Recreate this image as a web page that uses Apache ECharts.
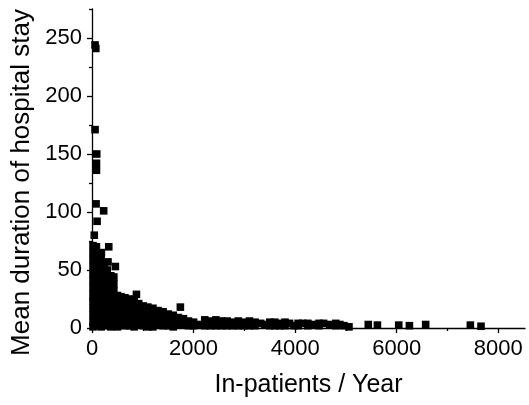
<!DOCTYPE html>
<html>
<head>
<meta charset="utf-8">
<script src="https://cdn.jsdelivr.net/npm/echarts@6/dist/echarts.min.js"></script>
<style>
  html, body { margin: 0; padding: 0; background: #fff; }
  #main { width: 529px; height: 405px; }
</style>
</head>
<body>
<div id="main"></div>
<script>
// isolated hospitals with long stays
var outlierPoints = [
    [60, 244], [75, 241], [60, 171], [93, 150], [88, 142], [88, 136],
    [80, 107], [230, 101], [100, 92], [45, 80], [87, 70], [330, 70],
    [185, 65], [315, 57], [460, 53], [875, 29], [1740, 18]
];

// the crowded bulk of small hospitals
var densePoints = [
    [20, 71], [20, 65], [20, 59], [20, 53], [20, 47], [20, 41], [20, 35], [20, 29], [20, 23], [20, 17], [20, 11], [20, 5], [20, 1],
    [70, 69], [70, 63], [70, 57], [70, 51], [70, 45], [70, 39], [70, 33], [70, 27], [70, 21], [70, 15], [70, 9], [70, 3],
    [125, 62], [125, 56], [125, 50], [125, 44], [125, 38], [125, 32], [125, 26], [125, 20], [125, 14], [125, 8], [125, 2],
    [180, 60], [180, 54], [180, 48], [180, 42], [180, 36], [180, 30], [180, 24], [180, 18], [180, 12], [180, 6], [180, 1],
    [240, 55], [240, 49], [240, 43], [240, 37], [240, 31], [240, 25], [240, 19], [240, 13], [240, 7], [240, 2],
    [300, 50], [300, 44], [300, 38], [300, 32], [300, 26], [300, 20], [300, 14], [300, 8], [300, 3],
    [370, 45], [370, 39], [370, 33], [370, 27], [370, 21], [370, 15], [370, 9], [370, 4], [370, 1],
    [430, 44], [430, 38], [430, 32], [430, 26], [430, 20], [430, 14], [430, 8], [430, 2],
    [500, 28], [500, 22], [500, 16], [500, 10], [500, 4], [500, 1],
    [570, 27], [570, 21], [570, 15], [570, 9], [570, 3],
    [650, 26], [650, 20], [650, 14], [650, 8], [650, 2],
    [740, 25], [740, 19], [740, 13], [740, 7], [740, 2],
    [830, 23], [830, 17], [830, 11], [830, 5], [830, 1],
    [920, 21], [920, 15], [920, 9], [920, 3],
    [1010, 19], [1010, 13], [1010, 7], [1010, 2],
    [1100, 18], [1100, 12], [1100, 6], [1100, 1],
    [1200, 17], [1200, 11], [1200, 5], [1200, 1],
    [1300, 15], [1300, 9], [1300, 3],
    [1400, 14], [1400, 8], [1400, 2],
    [1500, 12], [1500, 6], [1500, 2],
    [1600, 11], [1600, 5], [1600, 1],
    [1700, 9], [1700, 3],
    [1800, 8], [1800, 3],
    [1900, 6], [1900, 2],
    [2000, 5], [2000, 2],
    [2100, 3]
];

// large hospitals, short stays
var tailPoints = [
    [2220, 7], [2220, 2], [2330, 6], [2330, 2], [2440, 7], [2440, 2], [2550, 6], [2550, 2],
    [2660, 6], [2660, 2], [2770, 5], [2770, 2], [2880, 6], [2880, 2], [2990, 5], [2990, 2],
    [3100, 6], [3100, 2], [3210, 5], [3210, 2], [3320, 4], [3400, 3], [3500, 5], [3500, 2],
    [3600, 5], [3600, 2], [3700, 4], [3700, 2], [3800, 5], [3800, 2], [3890, 4], [3970, 2],
    [4060, 4], [4060, 2], [4150, 4], [4250, 4], [4250, 2], [4350, 3], [4470, 4], [4470, 2],
    [4560, 4], [4680, 3], [4800, 4], [4800, 2], [4880, 3], [4960, 2], [5060, 1],
    [5440, 3], [5620, 2.5], [6040, 2.5], [6250, 2], [6570, 3], [7450, 2.5], [7660, 1.5]
];

var xMajorTicks = [0, 2000, 4000, 6000, 8000];
var xMinorTicks = [1000, 3000, 5000, 7000];
var yMajorTicks = [0, 50, 100, 150, 200, 250];
var yMinorTicks = [25, 75, 125, 175, 225, 275];

var font = 'Liberation Sans, Arial, sans-serif';
var plain = function (v) { return String(v); };
var chart = echarts.init(document.getElementById('main'));

var option = {
    backgroundColor: '#fff',
    animation: false,
    grid: {
        left: 92,
        right: 4,
        top: 9,
        bottom: 77,
        outerBoundsMode: 'none'
    },
    xAxis: [{
        type: 'value',
        min: 0,
        max: 8526,
        interval: 2000,
        name: 'In-patients / Year',
        nameLocation: 'middle',
        nameGap: 45,
        nameTextStyle: { color: '#000', fontSize: 25, fontFamily: font },
        axisLine: { lineStyle: { color: '#000', width: 1.3 } },
        axisTick: { customValues: xMajorTicks, length: 5, lineStyle: { color: '#000', width: 1.3 } },
        axisLabel: { customValues: xMajorTicks, formatter: plain, color: '#000', fontSize: 22, fontFamily: font, margin: 10 },
        splitLine: { show: false }
    }, {
        type: 'value',
        position: 'bottom',
        min: 0,
        max: 8526,
        axisLine: { show: false },
        axisTick: { customValues: xMinorTicks, length: 3, lineStyle: { color: '#000', width: 1.3 } },
        axisLabel: { show: false },
        splitLine: { show: false }
    }],
    yAxis: [{
        type: 'value',
        min: 0,
        max: 275,
        interval: 50,
        name: 'Mean duration of hospital stay',
        nameLocation: 'middle',
        nameGap: 57,
        nameTextStyle: { color: '#000', fontSize: 26, fontFamily: font, padding: [0, 28, 0, 0] },
        axisLine: { lineStyle: { color: '#000', width: 1.3 } },
        axisTick: { customValues: yMajorTicks, length: 5, lineStyle: { color: '#000', width: 1.3 } },
        axisLabel: { customValues: yMajorTicks, formatter: plain, color: '#000', fontSize: 22, fontFamily: font, margin: 10 },
        splitLine: { show: false }
    }, {
        type: 'value',
        position: 'left',
        min: 0,
        max: 275,
        axisLine: { show: false },
        axisTick: { customValues: yMinorTicks, length: 3, lineStyle: { color: '#000', width: 1.3 } },
        axisLabel: { show: false },
        splitLine: { show: false }
    }],
    series: [{
        type: 'scatter',
        symbol: 'rect',
        symbolSize: 7.6,
        itemStyle: { color: '#000', opacity: 1 },
        data: outlierPoints.concat(densePoints, tailPoints)
    }]
};
chart.setOption(option);
</script>
</body>
</html>
